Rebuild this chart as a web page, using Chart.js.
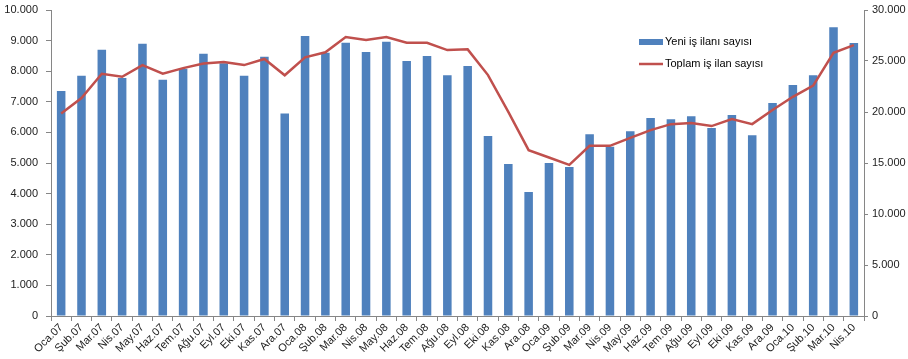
<!DOCTYPE html>
<html>
<head>
<meta charset="utf-8">
<script src="https://cdn.jsdelivr.net/npm/chart.js@4"></script>
<style>
  html, body { margin: 0; padding: 0; background: #fff; }
  #wrap { width: 908px; height: 359px; position: relative; }
</style>
</head>
<body>
<div id="wrap"><canvas id="chart"></canvas></div>
<script>
// aylar
const months = [
  "Oca.07", "Şub.07", "Mar.07", "Nis.07", "May.07", "Haz.07", "Tem.07", "Ağu.07", "Eyl.07", "Eki.07", "Kas.07", "Ara.07",
  "Oca.08", "Şub.08", "Mar.08", "Nis.08", "May.08", "Haz.08", "Tem.08", "Ağu.08", "Eyl.08", "Eki.08", "Kas.08", "Ara.08",
  "Oca.09", "Şub.09", "Mar.09", "Nis.09", "May.09", "Haz.09", "Tem.09", "Ağu.09", "Eyl.09", "Eki.09", "Kas.09", "Ara.09",
  "Oca.10", "Şub.10", "Mar.10", "Nis.10"
];

// yeni iş ilanı sayısı (sol eksen)
const newJobs = [
  7350, 7850, 8700, 7780, 8900, 7720, 8080, 8570, 8260, 7850, 8470, 6620,
  9150, 8600, 8930, 8630, 8960, 8330, 8500, 7870, 8170, 5880, 4970, 4050,
  5000, 4870, 5940, 5530, 6040, 6470, 6430, 6530, 6140, 6570, 5910, 6960,
  7550, 7870, 9440, 8920
];

// toplam iş ilan sayısı (sağ eksen)
const totalJobs = [
  19850, 21370, 23750, 23450, 24600, 23750, 24300, 24750, 24900, 24600, 25200, 23600,
  25360, 25850, 27350, 27060, 27350, 26790, 26790, 26070, 26140, 23620, 20020, 16260,
  15540, 14820, 16680, 16680, 17470, 18220, 18810, 18910, 18620, 19300, 18810, 20190,
  21490, 22580, 25810, 26560
];

const leftTicks = [0, 1000, 2000, 3000, 4000, 5000, 6000, 7000, 8000, 9000, 10000];
const rightTicks = [0, 5000, 10000, 15000, 20000, 25000, 30000];

// 1.000 biçimi
function fmt(v) {
  return String(v).replace(/\B(?=(\d{3})+(?!\d))/g, ".");
}

const axisColor = "#868686";
const tickFont = { family: "Liberation Sans, Arial, sans-serif", size: 11 };

// grafik içindeki açıklama
const legendPlugin = {
  id: "insideLegend",
  afterDraw(chart) {
    const ctx = chart.ctx;
    const ds = chart.data.datasets;
    ctx.save();
    ctx.font = "11px Liberation Sans, Arial, sans-serif";
    ctx.textBaseline = "middle";
    ctx.fillStyle = ds[0].backgroundColor;
    ctx.fillRect(639, 39, 24, 6);
    ctx.fillStyle = "#000";
    ctx.fillText(ds[0].label, 665, 42);
    ctx.strokeStyle = ds[1].borderColor;
    ctx.lineWidth = 2.5;
    ctx.beginPath();
    ctx.moveTo(639, 64);
    ctx.lineTo(663, 64);
    ctx.stroke();
    ctx.fillText(ds[1].label, 665, 64);
    ctx.restore();
  }
};

new Chart(document.getElementById("chart"), {
  type: "bar",
  data: {
    labels: months,
    datasets: [
      {
        label: "Yeni iş ilanı sayısı",
        data: newJobs,
        backgroundColor: "#4F81BD",
        yAxisID: "y",
        barPercentage: 0.42,
        categoryPercentage: 1,
        order: 1
      },
      {
        type: "line",
        label: "Toplam iş ilan sayısı",
        data: totalJobs,
        borderColor: "#C0504D",
        backgroundColor: "#C0504D",
        borderWidth: 2.5,
        pointRadius: 0,
        tension: 0,
        yAxisID: "y1",
        order: 0
      }
    ]
  },
  options: {
    responsive: true,
    maintainAspectRatio: false,
    animation: false,
    layout: { padding: { top: 10, bottom: 0, left: 0, right: 0 } },
    plugins: {
      legend: { display: false },
      tooltip: { enabled: false }
    },
    scales: {
      x: {
        grid: { display: true, drawOnChartArea: false, tickLength: 5, color: axisColor, offset: true },
        border: { color: axisColor },
        ticks: { color: "#222", font: tickFont, maxRotation: 45, minRotation: 45, autoSkip: false, padding: 0 },
        afterFit(s) { s.height = 43; }
      },
      y: {
        position: "left",
        min: 0,
        max: 10000,
        afterBuildTicks(s) { s.ticks = leftTicks.map(v => ({ value: v })); },
        grid: { drawOnChartArea: false, tickLength: 5, color: axisColor },
        border: { color: axisColor },
        ticks: { color: "#222", font: tickFont, padding: 8, callback: v => fmt(v) },
        afterFit(s) { s.width = 51; s.paddingTop = 0; s.paddingBottom = 0; }
      },
      y1: {
        position: "right",
        min: 0,
        max: 30000,
        afterBuildTicks(s) { s.ticks = rightTicks.map(v => ({ value: v })); },
        grid: { drawOnChartArea: false, tickLength: 4, color: axisColor },
        border: { color: axisColor },
        ticks: { color: "#222", font: tickFont, padding: 4, callback: v => fmt(v) },
        afterFit(s) { s.width = 44; s.paddingTop = 0; s.paddingBottom = 0; }
      }
    }
  },
  plugins: [legendPlugin]
});
</script>
</body>
</html>
